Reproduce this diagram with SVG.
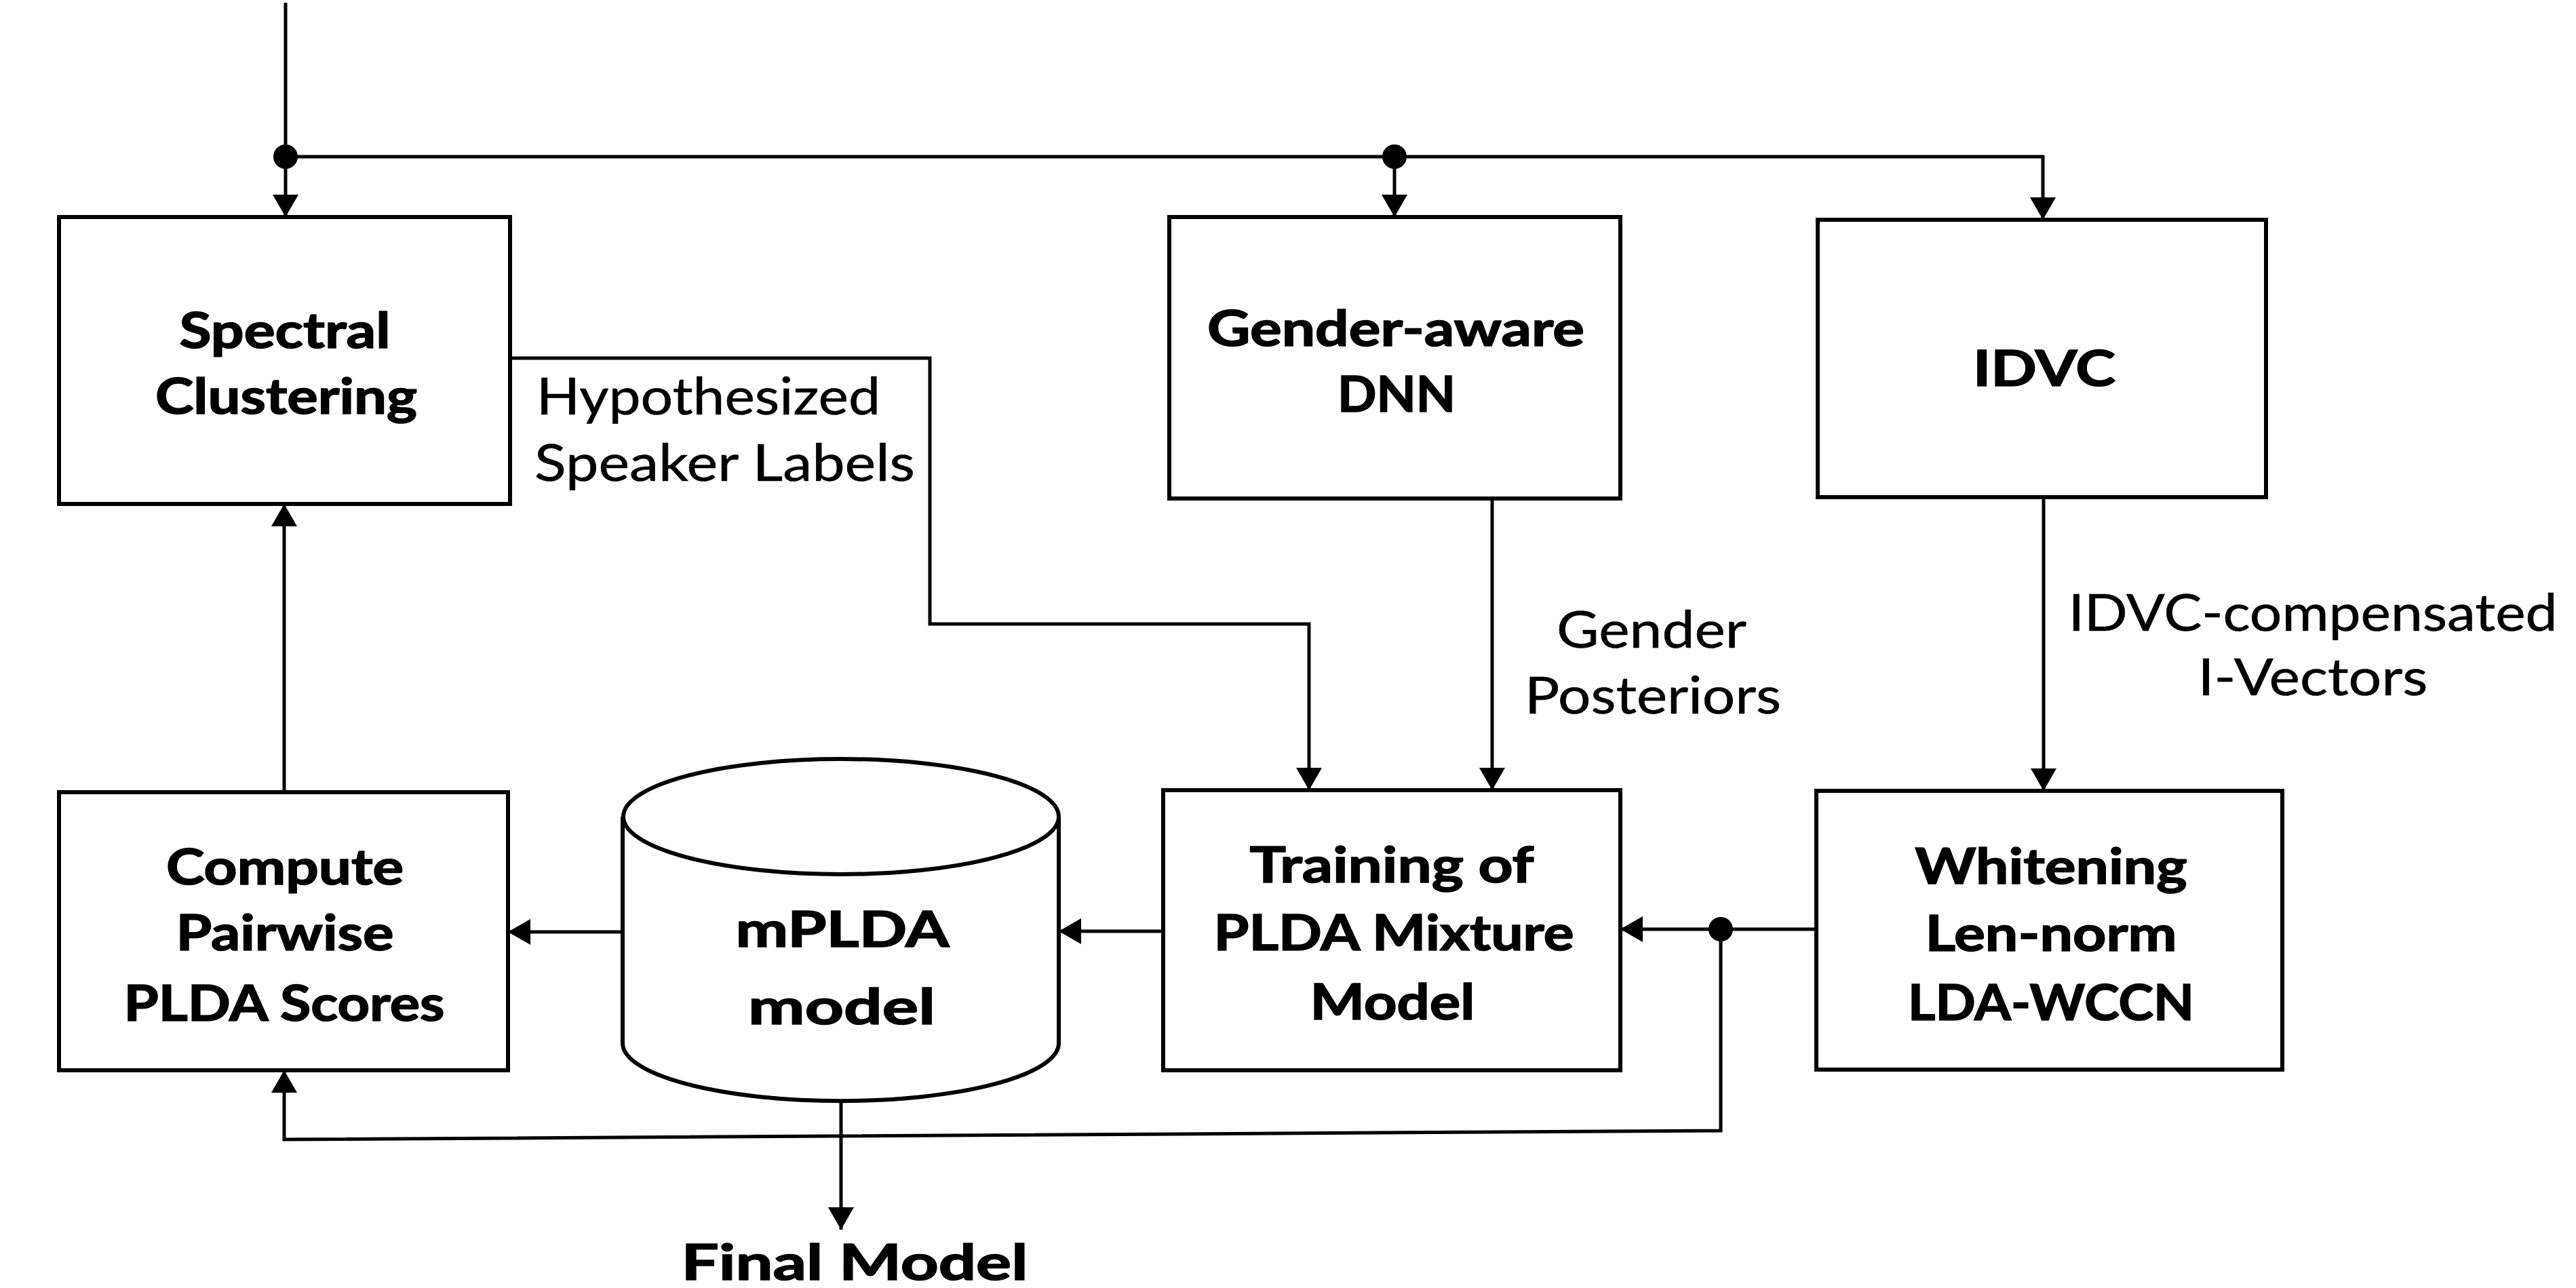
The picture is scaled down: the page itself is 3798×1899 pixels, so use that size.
<svg xmlns="http://www.w3.org/2000/svg" width="3798" height="1899" viewBox="0 0 3798 1899">
  <style>
    .box { fill: #fff; stroke: #000; stroke-width: 6; }
    .wire { fill: none; stroke: #000; stroke-width: 5; }
    .dot { fill: #000; }
    .title { font-family: Lato, "Liberation Sans", sans-serif; font-weight: 700; font-size: 72px; text-anchor: middle; fill: #000; stroke: #000; stroke-width: 1.6px; }
    .label { font-family: Lato, "Liberation Sans", sans-serif; font-weight: 400; font-size: 75px; fill: #000; stroke: #000; stroke-width: 0.6px; }
  </style>
  <defs>
    <marker id="arrow" markerUnits="userSpaceOnUse" markerWidth="34" markerHeight="40" refX="33" refY="19" orient="auto">
      <path d="M0,0 L33,19 L0,38 Z" fill="#000"/>
    </marker>
  </defs>
  <rect width="3798" height="1899" fill="#fff"/>

  <!-- connectors -->
  <g id="connectors">
    <!-- input split -->
    <path class="wire" d="M421,4 L421,320" marker-end="url(#arrow)"/>
    <path class="wire" d="M421,231 L3012,231 L3012,324" marker-end="url(#arrow)"/>
    <path class="wire" d="M2056,231 L2056,320" marker-end="url(#arrow)"/>
    <circle class="dot" cx="421" cy="231" r="18"/>
    <circle class="dot" cx="2056" cy="231" r="18"/>
    <!-- hypothesized speaker labels -->
    <path class="wire" d="M752,528 L1371,528 L1371,920 L1930,920 L1930,1165" marker-end="url(#arrow)"/>
    <!-- gender posteriors -->
    <path class="wire" d="M2200,735 L2200,1165" marker-end="url(#arrow)"/>
    <!-- IDVC-compensated i-vectors -->
    <path class="wire" d="M3013,733 L3013,1166" marker-end="url(#arrow)"/>
    <!-- normalised vectors to training and scoring -->
    <path class="wire" d="M2678,1370 L2389,1370" marker-end="url(#arrow)"/>
    <path class="wire" d="M2537,1370 L2537,1667 L419,1680 L419,1578" marker-end="url(#arrow)"/>
    <circle class="dot" cx="2537" cy="1370" r="18"/>
    <!-- training to model store -->
    <path class="wire" d="M1715,1373 L1561,1373" marker-end="url(#arrow)"/>
    <!-- model store to scoring -->
    <path class="wire" d="M918,1374 L749,1374" marker-end="url(#arrow)"/>
    <!-- scores back to clustering -->
    <path class="wire" d="M419,1168 L419,743" marker-end="url(#arrow)"/>
    <!-- final output -->
    <path class="wire" d="M1240,1622 L1240,1813" marker-end="url(#arrow)"/>
    <text class="title" x="1260" y="1887" font-size="86" textLength="511" lengthAdjust="spacingAndGlyphs">Final Model</text>
  </g>

  <!-- edge labels -->
  <g id="edge-labels">
    <text class="label" x="791" y="611" textLength="507" lengthAdjust="spacingAndGlyphs">Hypothesized</text>
    <text class="label" x="788" y="709" textLength="561" lengthAdjust="spacingAndGlyphs">Speaker Labels</text>
    <text class="label" x="2435" y="955" text-anchor="middle" textLength="280" lengthAdjust="spacingAndGlyphs">Gender</text>
    <text class="label" x="2437" y="1052" text-anchor="middle" textLength="378" lengthAdjust="spacingAndGlyphs">Posteriors</text>
    <text class="label" x="3410" y="930" text-anchor="middle" textLength="721" lengthAdjust="spacingAndGlyphs">IDVC-compensated</text>
    <text class="label" x="3410" y="1025" text-anchor="middle" textLength="339" lengthAdjust="spacingAndGlyphs">I-Vectors</text>
  </g>

  <g id="spectral-clustering">
    <rect class="box" x="87" y="320" width="665" height="423"/>
    <text class="title" x="420" y="513" textLength="311" lengthAdjust="spacingAndGlyphs">Spectral</text>
    <text class="title" x="422" y="610" textLength="386" lengthAdjust="spacingAndGlyphs">Clustering</text>
  </g>

  <g id="gender-dnn">
    <rect class="box" x="1724" y="320" width="665" height="415"/>
    <text class="title" x="2058" y="510" textLength="556" lengthAdjust="spacingAndGlyphs">Gender-aware</text>
    <text class="title" x="2059" y="607" textLength="174" lengthAdjust="spacingAndGlyphs">DNN</text>
  </g>

  <g id="idvc">
    <rect class="box" x="2680" y="324" width="661" height="409"/>
    <text class="title" x="3014" y="569" font-size="88" textLength="210" lengthAdjust="spacingAndGlyphs">IDVC</text>
  </g>

  <g id="compute-scores">
    <rect class="box" x="87" y="1168" width="662" height="410"/>
    <text class="title" x="420" y="1304" textLength="350" lengthAdjust="spacingAndGlyphs">Compute</text>
    <text class="title" x="420" y="1401" textLength="321" lengthAdjust="spacingAndGlyphs">Pairwise</text>
    <text class="title" x="419" y="1505" textLength="473" lengthAdjust="spacingAndGlyphs">PLDA Scores</text>
  </g>

  <g id="mplda-model">
    <path class="box" d="M918,1204 L918,1538 A321,85 0 0 0 1561,1538 L1561,1204"/>
    <ellipse class="box" cx="1240" cy="1204" rx="321" ry="85"/>
    <text class="title" x="1242" y="1396" font-size="78" textLength="315" lengthAdjust="spacingAndGlyphs">mPLDA</text>
    <text class="title" x="1241" y="1510" font-size="78" textLength="276" lengthAdjust="spacingAndGlyphs">model</text>
  </g>

  <g id="plda-training">
    <rect class="box" x="1715" y="1165" width="674" height="413"/>
    <text class="title" x="2052" y="1301" textLength="419" lengthAdjust="spacingAndGlyphs">Training of</text>
    <text class="title" x="2055" y="1401" textLength="531" lengthAdjust="spacingAndGlyphs">PLDA Mixture</text>
    <text class="title" x="2053" y="1503" textLength="243" lengthAdjust="spacingAndGlyphs">Model</text>
  </g>

  <g id="whitening">
    <rect class="box" x="2678" y="1166" width="687" height="411"/>
    <text class="title" x="3024" y="1303" textLength="401" lengthAdjust="spacingAndGlyphs">Whitening</text>
    <text class="title" x="3024" y="1402" textLength="371" lengthAdjust="spacingAndGlyphs">Len-norm</text>
    <text class="title" x="3024" y="1504" textLength="422" lengthAdjust="spacingAndGlyphs">LDA-WCCN</text>
  </g>
</svg>
